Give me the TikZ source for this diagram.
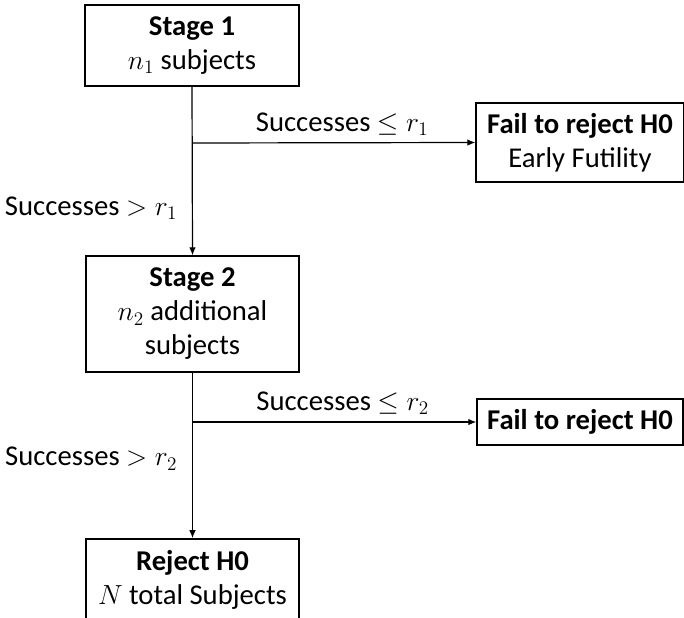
\documentclass[tikz,border=0pt]{standalone}
\usepackage{fontspec}
\setmainfont{Carlito}
\usetikzlibrary{arrows.meta}
\tikzset{
  stagebox/.style={draw, line width=1.1pt, align=center, inner sep=2pt, font=\fontsize{21.5}{25.5}\selectfont},
  flowline/.style={line width=0.9pt, -{Latex[length=6pt,width=5pt]}},
  decision/.style={inner sep=2pt, font=\fontsize{21.5}{25.5}\selectfont}
}
\begin{document}
\begin{tikzpicture}[x=0.75pt,y=-0.75pt]
            %Diseno en dos etapas
            \useasboundingbox (0,0) rectangle (684,617);
            \clip (0,0) rectangle (684,617);
            \node[stagebox, minimum width=160.5pt, minimum height=60.75pt] (S1) at (192,45.5) {\textbf{Stage 1}\\$n_1$ subjects};
            \node[stagebox, minimum width=156pt, minimum height=59.25pt] (F1) at (580,142.5) {\textbf{Fail to reject H0}\\Early Futility};
            \node[stagebox, minimum width=160pt, minimum height=87pt] (S2) at (192.5,314) {\textbf{Stage 2}\\$n_2$ additional\\subjects};
            \node[stagebox, minimum width=154.5pt, minimum height=34.5pt] (F2) at (580,422) {\textbf{Fail to reject H0}};
            \node[stagebox, minimum width=160pt, minimum height=61pt] (R) at (192.5,579.5) {\textbf{Reject H0}\\$N$ total Subjects};
            \coordinate (B1) at (192,143);
            \coordinate (B2) at (192,422);
            \draw[flowline] (S1.south) -- (S2.north) node[decision, left=9pt, pos=0.72]{Successes $>r_1$};
            \draw[flowline] (B1) -- (F1.west) node[decision, above=3pt, pos=0.53]{Successes $\le r_1$};
            \draw[flowline] (S2.south) -- (R.north) node[decision, left=9pt, pos=0.52]{Successes $>r_2$};
            \draw[flowline] (B2) -- (F2.west) node[decision, above=3pt, pos=0.53]{Successes $\le r_2$};
        \end{tikzpicture}
\end{document}
